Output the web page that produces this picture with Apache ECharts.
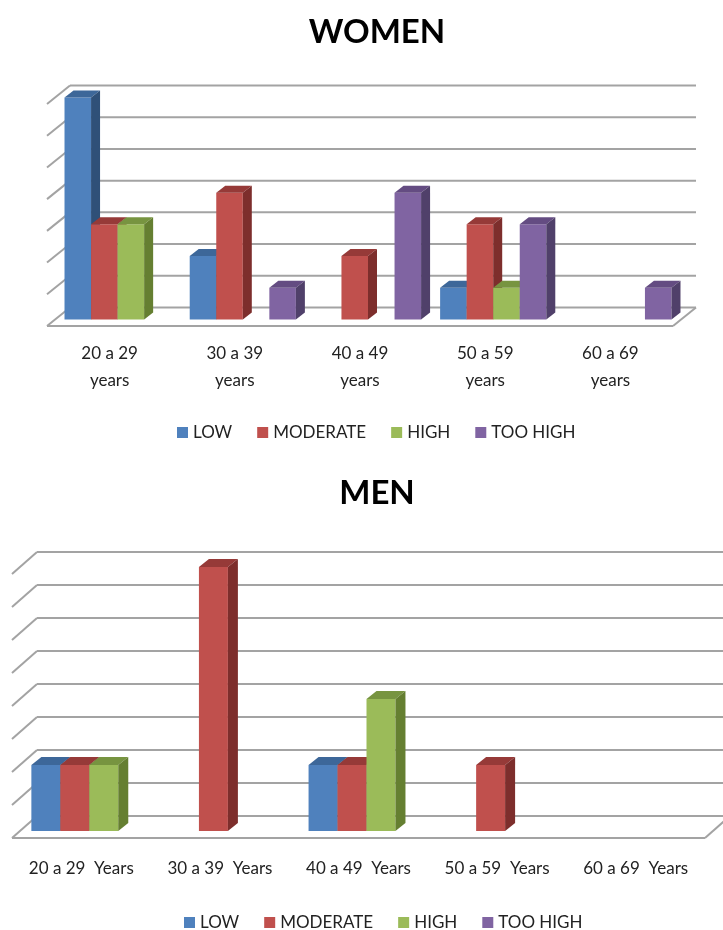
<!DOCTYPE html>
<html>
<head>
<meta charset="utf-8">
<script src="https://cdn.jsdelivr.net/npm/echarts@6/dist/echarts.min.js"></script>
<style>
  html, body { margin: 0; padding: 0; background: #fff; }
  #chart { width: 723px; height: 930px; }
</style>
</head>
<body>
<div id="chart"></div>
<script>
// levels (legend)
var levels = ['LOW', 'MODERATE', 'HIGH', 'TOO HIGH'];

// women
var womenAges = ['20 a 29\nyears', '30 a 39\nyears', '40 a 49\nyears', '50 a 59\nyears', '60 a 69\nyears'];
var womenLow = [7, 2, 0, 1, 0];
var womenModerate = [3, 4, 2, 3, 0];
var womenHigh = [3, 0, 0, 1, 0];
var womenTooHigh = [0, 1, 4, 3, 1];
var womenTicks = [0, 1, 2, 3, 4, 5, 6, 7];

// men
var menAges = ['20 a 29  Years', '30 a 39  Years', '40 a 49  Years', '50 a 59  Years', '60 a 69  Years'];
var menLow = [2, 0, 2, 0, 0];
var menModerate = [2, 8, 2, 2, 0];
var menHigh = [2, 0, 4, 0, 0];
var menTooHigh = [0, 0, 0, 0, 0];
var menTicks = [0, 1, 2, 3, 4, 5, 6, 7, 8];

// front / top / side colours
var palette = [
    ['#4f81bd', '#3d6799', '#2f5078'],
    ['#c0504d', '#963a38', '#7d2e2c'],
    ['#9bbb59', '#779440', '#657f31'],
    ['#8064a2', '#644c82', '#50406a']
];

var font = 'Lato, "Open Sans", sans-serif';
var gridColor = '#a3a3a3';

// depth offsets of the fake 3d box
var womenDepth = {dx: 23, dy: 18.5, sx: 8, sy: 6.5, bx: 9, by: 7, ratio: 0.212};
var menDepth = {dx: 25, dy: 22, sx: 8, sy: 7, bx: 10, by: 8, ratio: 0.209};

function ln(x1, y1, x2, y2) {
    return {
        type: 'line',
        shape: {x1: x1, y1: y1, x2: x2, y2: y2},
        style: {stroke: gridColor, lineWidth: 2}
    };
}

// back wall lines, left wall diagonals, floor
function wallItem(d) {
    return function (params, api) {
        var v = api.value(1);
        var cs = params.coordSys;
        var y = api.coord([0, v])[1];
        var x0 = cs.x, x1 = cs.x + cs.width;
        var kids = [
            ln(x0, y, x0 + d.dx, y - d.dy),
            ln(x0 + d.dx, y - d.dy, x1 + d.dx, y - d.dy)
        ];
        if (v === 0) {
            kids.push(ln(x0, y, x1, y));
            kids.push(ln(x1, y, x1 + d.dx, y - d.dy));
        }
        return {type: 'group', children: kids};
    };
}

function barItem(pos, d, col) {
    return function (params, api) {
        var ci = api.value(0), v = api.value(1);
        if (!v) return null;
        var base = api.coord([ci, 0]);
        var top = api.coord([ci, v]);
        var band = api.size([1, 0])[0];
        var w = band * d.ratio;
        var l = base[0] - 2 * w + pos * w + d.sx;
        var r = l + w;
        var yb = base[1] - d.sy, yt = top[1] - d.sy;
        return {
            type: 'group',
            children: [
                {type: 'rect', shape: {x: l, y: yt, width: w, height: yb - yt}, style: {fill: col[0]}},
                {type: 'polygon', shape: {points: [[l, yt], [r, yt], [r + d.bx, yt - d.by], [l + d.bx, yt - d.by]]}, style: {fill: col[1]}},
                {type: 'polygon', shape: {points: [[r, yt], [r + d.bx, yt - d.by], [r + d.bx, yb - d.by], [r, yb]]}, style: {fill: col[2]}}
            ]
        };
    };
}

function pairs(arr) {
    return arr.map(function (v, i) { return [i, v]; });
}

function buildSeries(gi, d, ticks, sets) {
    var out = [{
        type: 'custom',
        name: 'wall' + gi,
        xAxisIndex: gi,
        yAxisIndex: gi,
        silent: true,
        z: 1,
        renderItem: wallItem(d),
        data: ticks.map(function (t) { return [0, t]; })
    }];
    sets.forEach(function (vals, k) {
        out.push({
            type: 'custom',
            name: levels[k],
            xAxisIndex: gi,
            yAxisIndex: gi,
            z: 2 + k,
            itemStyle: {color: palette[k][0]},
            renderItem: barItem(k, d, palette[k]),
            data: pairs(vals)
        });
    });
    return out;
}

var chart = echarts.init(document.getElementById('chart'));

var legendBase = {
    data: levels,
    icon: 'rect',
    padding: 0,
    itemWidth: 11,
    itemHeight: 11,
    itemGap: 25,
    textStyle: {fontFamily: font, fontSize: 17, color: '#222'}
};

chart.setOption({
    animation: false,
    title: [
        {text: 'WOMEN', left: 372, top: 11, textAlign: 'center',
            textStyle: {fontFamily: font, fontSize: 33, fontWeight: 'bold', color: '#000'}},
        {text: 'MEN', left: 372, top: 472, textAlign: 'center',
            textStyle: {fontFamily: font, fontSize: 33, fontWeight: 'bold', color: '#000'}}
    ],
    legend: [
        Object.assign({left: 177, top: 424}, legendBase),
        Object.assign({left: 184, top: 914}, legendBase)
    ],
    grid: [
        {left: 47, right: 50, top: 104, bottom: 604},
        {left: 12, right: 18, top: 574, bottom: 92}
    ],
    xAxis: [
        {gridIndex: 0, type: 'category', data: womenAges,
            axisLine: {show: false}, axisTick: {show: false},
            axisLabel: {interval: 0, margin: 14, fontFamily: font, fontSize: 17, lineHeight: 27, color: '#222'}},
        {gridIndex: 1, type: 'category', data: menAges,
            axisLine: {show: false}, axisTick: {show: false},
            axisLabel: {interval: 0, margin: 20, fontFamily: font, fontSize: 17, lineHeight: 22, color: '#222'}}
    ],
    yAxis: [
        {gridIndex: 0, type: 'value', min: 0, max: 7, interval: 1, show: false, splitLine: {show: false}},
        {gridIndex: 1, type: 'value', min: 0, max: 8, interval: 1, show: false, splitLine: {show: false}}
    ],
    series: buildSeries(0, womenDepth, womenTicks, [womenLow, womenModerate, womenHigh, womenTooHigh])
        .concat(buildSeries(1, menDepth, menTicks, [menLow, menModerate, menHigh, menTooHigh]))
});
</script>
</body>
</html>
